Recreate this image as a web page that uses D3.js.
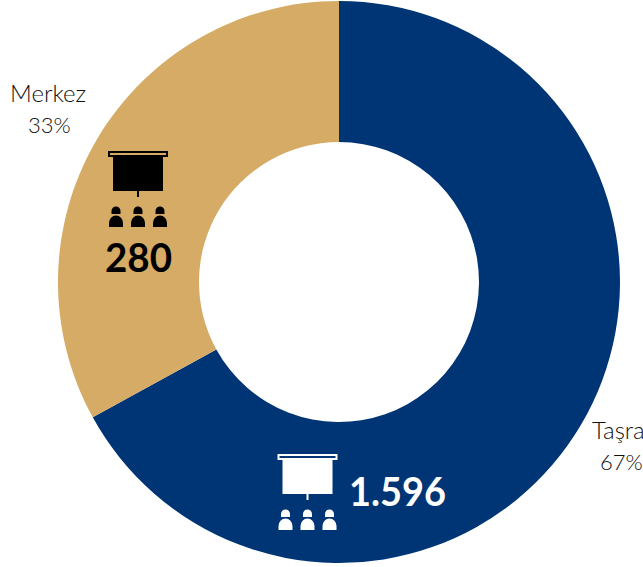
<!DOCTYPE html>
<html>
<head>
<meta charset="utf-8">
<script src="https://cdn.jsdelivr.net/npm/d3@7"></script>
<style>
  html, body { margin: 0; padding: 0; background: #fff; overflow: hidden; }
  text { font-family: "Lato", "Open Sans", sans-serif; }
</style>
</head>
<body>
<div id="chart"></div>
<script>
var categories = ['Taşra', 'Merkez'];
var shares = [67, 33];
var counts = ['1.596', '280'];
var colors = ['#003575', '#d5ab65'];

var width = 643;
var height = 567;
var cx = 339;
var cy = 282;

var svg = d3.select('#chart').append('svg')
  .attr('width', width)
  .attr('height', height);

var pie = d3.pie().sort(null);
var arc = d3.arc().innerRadius(140).outerRadius(281);

var chart = svg.append('g').attr('transform', 'translate(' + cx + ',' + cy + ')');

chart.selectAll('path')
  .data(pie(shares))
  .enter()
  .append('path')
  .attr('d', arc)
  .attr('fill', function(d, i) { return colors[i]; });

// screen with three people below it, origin at top left of the bar
var drawIcon = function(x, y, fg, bg) {
  var g = svg.append('g').attr('transform', 'translate(' + x + ',' + y + ')');
  g.append('rect').attr('x', 0).attr('y', 0).attr('width', 60).attr('height', 6).attr('fill', fg);
  g.append('rect').attr('x', 2).attr('y', 2).attr('width', 56).attr('height', 2).attr('fill', bg);
  g.append('rect').attr('x', 5).attr('y', 6).attr('width', 50).attr('height', 34).attr('fill', fg);
  g.append('rect').attr('x', 29).attr('y', 40).attr('width', 2).attr('height', 6).attr('fill', fg);
  [8, 30, 52].forEach(function(px) {
    g.append('path')
      .attr('d', 'M' + (px - 4.5) + ',63 V60 A4.5,4.5 0 0 1 ' + (px + 4.5) + ',60 V63 Z')
      .attr('fill', fg);
    g.append('path')
      .attr('d', 'M' + (px - 7) + ',76 V72 A7,7.5 0 0 1 ' + (px + 7) + ',72 V76 Z')
      .attr('fill', fg);
  });
};

drawIcon(108, 151, '#000', colors[1]);
drawIcon(277.5, 454, '#fff', colors[0]);

// slice labels, Taşra runs off the right edge like the original
var labelPos = [
  { x: 592, y: 439, pctX: 600 },
  { x: 10, y: 102, pctX: 28 }
];

categories.forEach(function(name, i) {
  svg.append('text')
    .attr('x', labelPos[i].x)
    .attr('y', labelPos[i].y)
    .attr('font-size', 24)
    .attr('font-weight', 300)
    .attr('fill', '#111')
    .text(name);
  svg.append('text')
    .attr('x', labelPos[i].pctX)
    .attr('y', labelPos[i].y + 31)
    .attr('font-size', 22)
    .attr('font-weight', 300)
    .attr('fill', '#111')
    .text(shares[i] + '%');
});

svg.append('text')
  .attr('x', 349)
  .attr('y', 506)
  .attr('font-size', 41)
  .attr('font-weight', 700)
  .attr('textLength', 97)
  .attr('lengthAdjust', 'spacingAndGlyphs')
  .attr('fill', '#fff')
  .text(counts[0]);

svg.append('text')
  .attr('x', 105)
  .attr('y', 272)
  .attr('font-size', 41)
  .attr('font-weight', 700)
  .attr('textLength', 67)
  .attr('lengthAdjust', 'spacingAndGlyphs')
  .attr('fill', '#000')
  .text(counts[1]);
</script>
</body>
</html>
